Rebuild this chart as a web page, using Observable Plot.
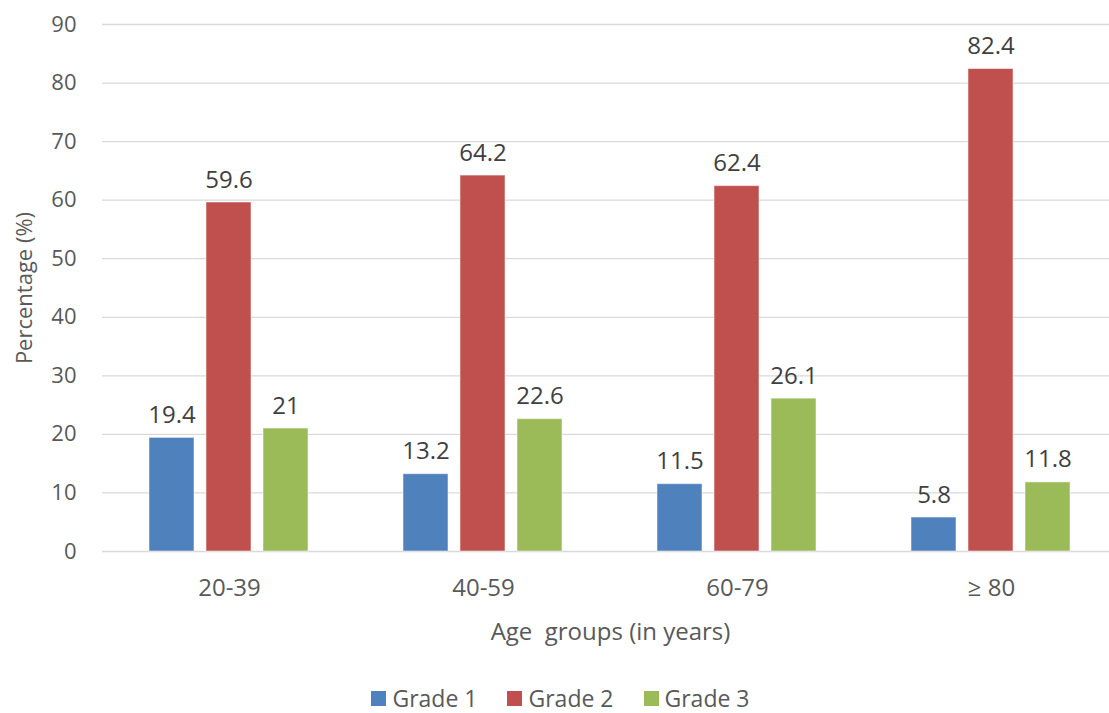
<!DOCTYPE html>
<html>
<head>
<meta charset="utf-8">
<script src="https://cdn.jsdelivr.net/npm/d3@7"></script>
<script src="https://cdn.jsdelivr.net/npm/@observablehq/plot@0.6"></script>
<style>
  html, body { margin: 0; padding: 0; background: white; overflow: hidden; }
  #chart svg { overflow: visible; display: block; }
  .legend { display: flex; justify-content: center; align-items: center; gap: 30px;
    font-family: "Open Sans", sans-serif; font-size: 23px; line-height: 24px; height: 24px; color: #595959; margin-top: 26px; padding-left: 12px; }
  .legend span.item { display: flex; align-items: center; gap: 6px; }
  .legend span.sw { display: inline-block; width: 15px; height: 15px; }
</style>
</head>
<body>
<div id="chart"></div>
<script>
const ages = ["20-39", "40-59", "60-79", "≥ 80"];
const grades = ["Grade 1", "Grade 2", "Grade 3"];
const grade1 = [19.4, 13.2, 11.5, 5.8];
const grade2 = [59.6, 64.2, 62.4, 82.4];
const grade3 = [21, 22.6, 26.1, 11.8];
const colors = ["#4F81BD", "#C0504D", "#9BBB59"];
const yTicks = [0, 10, 20, 30, 40, 50, 60, 70, 80, 90];

const series = [grade1, grade2, grade3];
const data = [];
ages.forEach((age, i) => grades.forEach((g, j) => data.push({age, grade: g, value: series[j][i]})));

const chart = Plot.plot({
  width: 1109,
  height: 660,
  marginTop: 24,
  marginBottom: 109,
  marginLeft: 102,
  marginRight: 0,
  style: { fontFamily: "Open Sans, sans-serif", color: "#595959", background: "white" },
  fx: { domain: ages, range: [102, 1118], padding: 0 },
  x: { domain: grades, paddingInner: 0.21, paddingOuter: 0.833 },
  y: { domain: [0, 90] },
  color: { domain: grades, range: colors },
  marks: [
    Plot.ruleY(yTicks, { stroke: "#d9d9d9", strokeWidth: 1.3 }),
    Plot.barY(data, { fx: "age", x: "grade", y: "value", fill: "grade", stroke: "white", strokeOpacity: 0.5, strokeWidth: 1 }),
    Plot.text(data, { fx: "age", x: "grade", y: "value", text: d => String(d.value), lineAnchor: "bottom", dy: -15, fontSize: 24, fill: "#404040" }),
    Plot.axisY(yTicks, { tickSize: 0, tickPadding: 26, fontSize: 24, label: "Percentage (%)", labelAnchor: "center", labelArrow: "none", labelOffset: 86, fontSize: 22, fill: "#595959" }),
    Plot.axisX({ ticks: [], label: null }),
    Plot.axisFx({ anchor: "bottom", tickSize: 0, tickPadding: 27, fontSize: 24, label: "Age\u00a0 groups (in years)", labelAnchor: "center", labelArrow: "none", labelOffset: 88, fill: "#595959" })
  ]
});
document.getElementById("chart").appendChild(chart);

const legend = document.createElement("div");
legend.className = "legend";
grades.forEach((g, i) => {
  const item = document.createElement("span");
  item.className = "item";
  const sw = document.createElement("span");
  sw.className = "sw";
  sw.style.background = colors[i];
  item.appendChild(sw);
  item.appendChild(document.createTextNode(g));
  legend.appendChild(item);
});
document.body.appendChild(legend);
</script>
</body>
</html>
